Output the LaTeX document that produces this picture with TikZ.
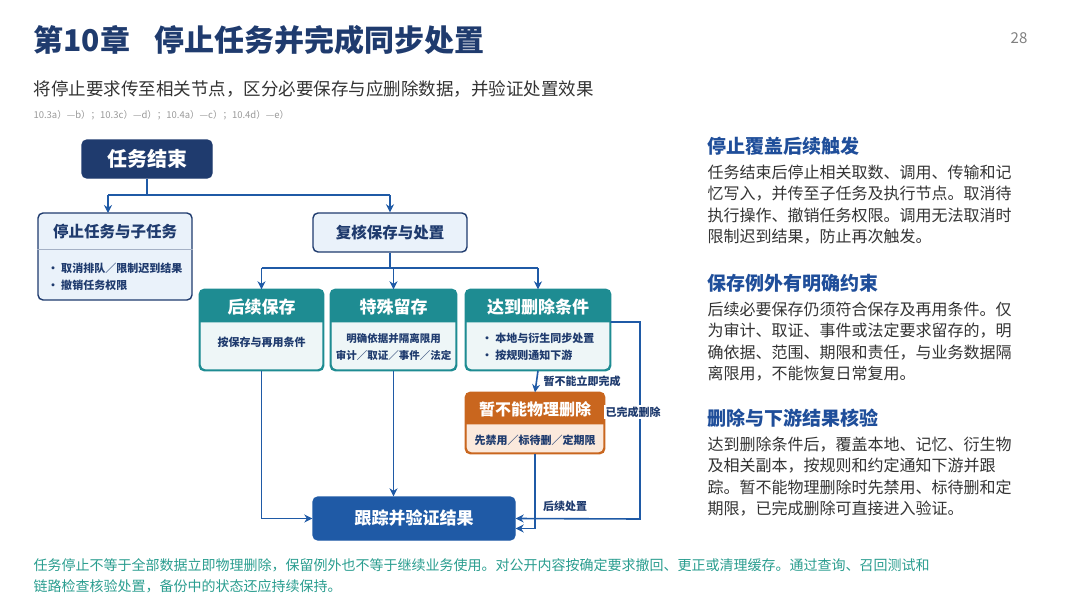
\documentclass[tikz,border=0pt]{standalone}
\usepackage{fontspec}
\setmainfont{Noto Sans CJK SC}
\usetikzlibrary{arrows.meta,calc,positioning}
\definecolor{navy}{HTML}{1F3B6E}
\definecolor{flowblue}{HTML}{1F5AA6}
\definecolor{paleblue}{HTML}{EAF2FA}
\definecolor{tealhead}{HTML}{1E8C92}
\definecolor{tealbody}{HTML}{EEF6F7}
\definecolor{orangehead}{HTML}{C9661E}
\definecolor{orangebody}{HTML}{FBE9DC}
\definecolor{headblue}{HTML}{1F4E9A}
\definecolor{bodytext}{HTML}{333333}
\definecolor{footteal}{HTML}{2A9D8F}
\tikzset{
  card/.style = {draw=#1, line width=1.4pt, rounded corners=5pt, inner sep=0pt},
  arrow/.style = {flowblue, line width=1.6pt, -{Stealth[length=8pt,width=8pt]}},
  line/.style = {flowblue, line width=1.6pt},
  lab/.style = {text=navy, font=\fontsize{11}{13}\selectfont\bfseries},
  hd/.style = {font=\fontsize{17}{20}\selectfont\bfseries},
  bd/.style = {font=\fontsize{11.5}{17}\selectfont\bfseries, text=navy, align=left},
  rhead/.style = {anchor=west, text=headblue, font=\fontsize{19}{22}\selectfont\bfseries},
  rtext/.style = {anchor=north west, text=bodytext, align=left, font=\fontsize{16}{21.5}\selectfont},
}
\newcommand{\topfill}[3]{% node, header height, colour
  \fill[#3] ($(#1.north west)+(0,#2)$) [rounded corners=5pt] -- (#1.north west) -- (#1.north east) [sharp corners] -- ($(#1.north east)+(0,#2)$) -- cycle;
}
\begin{document}
\begin{tikzpicture}[x=1pt,y=-1pt]
\useasboundingbox (0,0) rectangle (1080,608);

% title
\node[anchor=west, text=navy, font=\fontsize{30}{34}\selectfont\bfseries] (title) at (30,40) {第10章\hspace{0.8em}停止任务并完成同步处置};
\node[text=gray, font=\fontsize{15}{17}\selectfont] (page) at (1019,38) {28};
\node[anchor=west, text=bodytext, font=\fontsize{17.5}{20}\selectfont] (sub) at (30,89) {将停止要求传至相关节点，区分必要保存与应删除数据，并验证处置效果};
\node[anchor=west, text=gray!80, font=\fontsize{9.5}{11}\selectfont] (refs) at (30,115) {10.3a）—b）；10.3c）—d）；10.4a）—c）；10.4d）—e）};

% top
\node[card=navy, fill=navy, minimum width=130pt, minimum height=38pt, text=white, hd, font=\fontsize{20}{22}\selectfont\bfseries] (end) at (147,159) {任务结束};

\node[card=navy, fill=paleblue, minimum width=154pt, minimum height=87pt] (stop) at (115,256.5) {};
\draw[navy!40] ($(stop.north west)+(0,37)$) -- ($(stop.north east)+(0,37)$);
\node[hd, text=navy, font=\fontsize{15.5}{18}\selectfont\bfseries] (stoph) at (115,232) {停止任务与子任务};
\node[bd, font=\fontsize{11}{17}\selectfont\bfseries] (stopb) at (115,277) {• 取消排队／限制迟到结果\\• 撤销任务权限};

\node[card=navy, fill=paleblue, minimum width=154pt, minimum height=39pt, text=navy, hd, font=\fontsize{15.5}{18}\selectfont\bfseries] (review) at (390,232.5) {复核保存与处置};

% teal cards
\node[card=tealhead, fill=tealbody, minimum width=123pt, minimum height=80pt] (keep) at (261.5,330) {};
\node[card=tealhead, fill=tealbody, minimum width=125pt, minimum height=80pt] (hold) at (393.5,330) {};
\node[card=tealhead, fill=tealbody, minimum width=144pt, minimum height=80pt] (del) at (538,330) {};
\foreach \n in {keep,hold,del}{
  \topfill{\n}{33}{tealhead}
  \draw[card=tealhead, fill=none] (\n.north west) rectangle (\n.south east);
}
\node[hd, text=white] (keeph) at (261.5,307) {后续保存};
\node[hd, text=white] (holdh) at (393.5,307) {特殊留存};
\node[hd, text=white] (delh) at (538,307) {达到删除条件};
\node[bd, font=\fontsize{11}{17}\selectfont\bfseries] (keepb) at (261.5,342) {按保存与再用条件};
\node[bd, align=center, font=\fontsize{10.5}{17}\selectfont\bfseries] (holdb) at (393.5,347) {明确依据并隔离限用\\审计／取证／事件／法定};
\node[bd, font=\fontsize{11}{17}\selectfont\bfseries] (delb) at (538,347) {• 本地与衍生同步处置\\• 按规则通知下游};

% orange card
\node[card=orangehead, fill=orangebody, minimum width=138pt, minimum height=60pt] (nophys) at (535,423) {};
\topfill{nophys}{32}{orangehead}
\draw[card=orangehead, fill=none] (nophys.north west) rectangle (nophys.south east);
\node[hd, text=white, font=\fontsize{16}{19}\selectfont\bfseries] (nophysh) at (535,409) {暂不能物理删除};
\node[bd, font=\fontsize{11}{17}\selectfont\bfseries] (nophysb) at (535,440) {先禁用／标待删／定期限};

% result
\node[card=flowblue, fill=flowblue, minimum width=202pt, minimum height=43pt, text=white, hd, font=\fontsize{17}{20}\selectfont\bfseries] (track) at (414,518.5) {跟踪并验证结果};

% connectors
\draw[line] (end.south) -- ++(0,17) coordinate (j1);
\draw[line] (108,195) -- (390,195);
\draw[arrow] (108,195) -- (108,213);
\draw[arrow] (390,195) -- (review.north);
\draw[line] (review.south) -- (390,268);
\draw[line] (261.5,268) -- (538,268);
\draw[arrow] (261.5,268) -- (keep.north);
\draw[arrow] (393.5,268) -- (hold.north);
\draw[arrow] (538,268) -- (del.north);

\draw[arrow] (keep.south) |- ([yshift=0pt]track.west);
\draw[arrow] (hold.south) -- (hold.south |- track.north);
\draw[arrow] (del.south) -- (nophys.north) node[lab, midway, right=3pt] {暂不能立即完成};
\draw[arrow] (nophys.south) |- ([yshift=-10pt]track.east) node[lab, pos=0.35, right=4pt] {后续处置};
\draw[arrow] (del.east |- 0,322) -| (640,400) -- (640,519) -- (track.east);
\node[lab, fill=white, inner sep=2pt] (done) at (633,412) {已完成删除};

% right column
\node[rhead] (h1) at (704,146) {停止覆盖后续触发};
\node[rtext] (t1) at (704,161) {任务结束后停止相关取数、调用、传输和记\\忆写入，并传至子任务及执行节点。取消待\\执行操作、撤销任务权限。调用无法取消时\\限制迟到结果，防止再次触发。};
\node[rhead] (h2) at (704,283) {保存例外有明确约束};
\node[rtext] (t2) at (704,298) {后续必要保存仍须符合保存及再用条件。仅\\为审计、取证、事件或法定要求留存的，明\\确依据、范围、期限和责任，与业务数据隔\\离限用，不能恢复日常复用。};
\node[rhead] (h3) at (704,418) {删除与下游结果核验};
\node[rtext] (t3) at (704,433) {达到删除条件后，覆盖本地、记忆、衍生物\\及相关副本，按规则和约定通知下游并跟\\踪。暂不能物理删除时先禁用、标待删和定\\期限，已完成删除可直接进入验证。};

% footer
\node[anchor=north west, text=footteal, align=left, font=\fontsize{14}{21}\selectfont] (foot) at (30,555) {任务停止不等于全部数据立即物理删除，保留例外也不等于继续业务使用。对公开内容按确定要求撤回、更正或清理缓存。通过查询、召回测试和\\链路检查核验处置，备份中的状态还应持续保持。};
\end{tikzpicture}
\end{document}
